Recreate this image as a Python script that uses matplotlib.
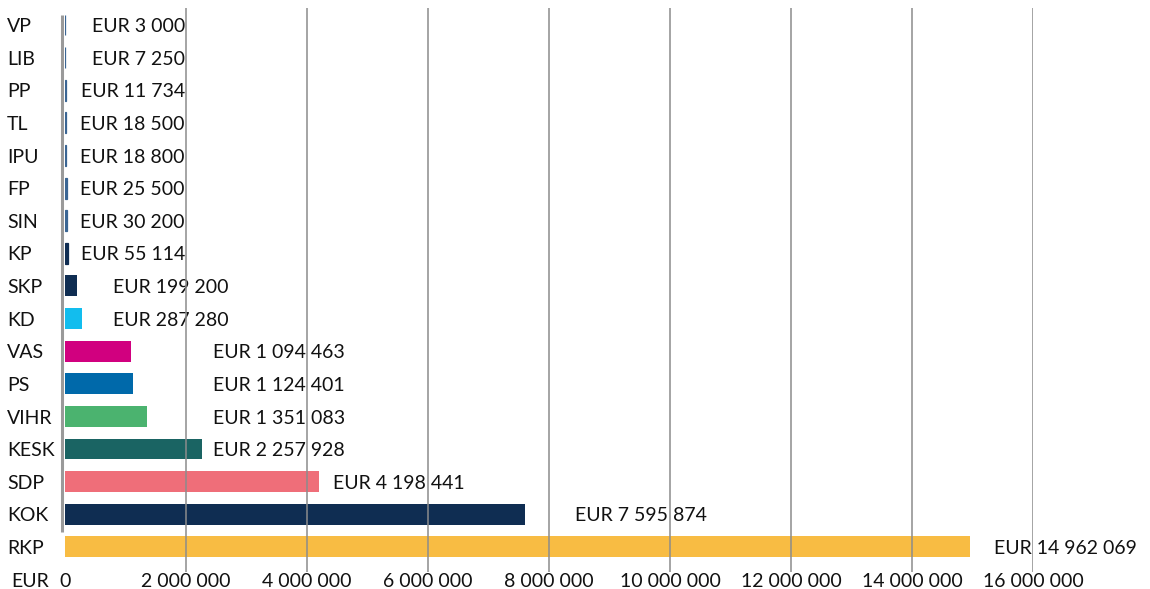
import matplotlib
matplotlib.use('Agg')
import matplotlib.pyplot as plt
import matplotlib.transforms as mtransforms

# data
parties = ['VP', 'LIB', 'PP', 'TL', 'IPU', 'FP', 'SIN', 'KP', 'SKP', 'KD',
           'VAS', 'PS', 'VIHR', 'KESK', 'SDP', 'KOK', 'RKP']
amounts = [3000, 7250, 11734, 18500, 18800, 25500, 30200, 55114, 199200, 287280,
           1094463, 1124401, 1351083, 2257928, 4198441, 7595874, 14962069]
colors = ['#3a6593', '#3a6593', '#3a6593', '#3a6593', '#3a6593', '#3a6593', '#3a6593',
          '#0f2d52', '#0f2d52', '#12bdee', '#d1007f', '#0069aa', '#4bb36f', '#1a6463',
          '#ef6e79', '#0f2d52', '#f8bc43']
xticks = [0, 2000000, 4000000, 6000000, 8000000, 10000000, 12000000, 14000000, 16000000]

# where the value labels end (right aligned), like in the original layout
label_right = [1.98e6] * 8 + [2.71e6] * 2 + [4.63e6] * 4 + [6.61e6, 10.61e6, 17.72e6]

plt.rcParams['font.family'] = ['Lato', 'DejaVu Sans']
FS = 14


def fmt(v):
    return '{:,}'.format(v).replace(',', ' ')


fig = plt.figure(figsize=(11.5, 5.89), dpi=100)
ax = fig.add_axes([65 / 1150, 17 / 589, (1033 - 65) / 1150, (581 - 17) / 589])

ypos = list(range(len(parties)))
for y, v, c in zip(ypos, amounts, colors):
    # very small amounts get an outline so they stay visible
    lw = 0.9 if v < 60000 else 0
    ax.barh(y, v, height=0.64, color=c, edgecolor=c, linewidth=lw, zorder=2)

for y, v, xr in zip(ypos, amounts, label_right):
    ax.text(xr, y + 0.05, 'EUR ' + fmt(v), ha='right', va='center', fontsize=FS,
            color='#111111', clip_on=False, zorder=1)

ax.set_xlim(0, 16000000)
ax.set_ylim(16.77, -0.52)

# vertical grid lines
for t in xticks[1:]:
    ax.axvline(t, color='#8c8c8c', linewidth=1.1, zorder=3)
# value axis line, just left of the bars
ax.vlines(-45000, -0.31, 15.55, color='#9a9a9a', linewidth=2.2, zorder=4,
          clip_on=False)

for s in ax.spines.values():
    s.set_visible(False)

ax.set_xticks(xticks)
ax.set_xticklabels([fmt(t) for t in xticks], fontsize=FS, color='#111111')
ax.tick_params(axis='x', length=0, pad=1)
ax.set_yticks([])

# category labels at the left edge
trans = mtransforms.blended_transform_factory(fig.transFigure, ax.transData)
for y, p in zip(ypos, parties):
    ax.text(7 / 1150, y + 0.05, p, transform=trans, ha='left', va='center',
            fontsize=FS, color='#111111', clip_on=False)

# currency label next to 0, aligned with the tick labels
fig.canvas.draw()
bb = ax.get_xticklabels()[0].get_window_extent()
fig.text(30 / 1150, bb.y1 / fig.bbox.height, 'EUR', ha='center', va='top',
         fontsize=FS, color='#111111')

fig.savefig('out.png', dpi=100, facecolor='white')
